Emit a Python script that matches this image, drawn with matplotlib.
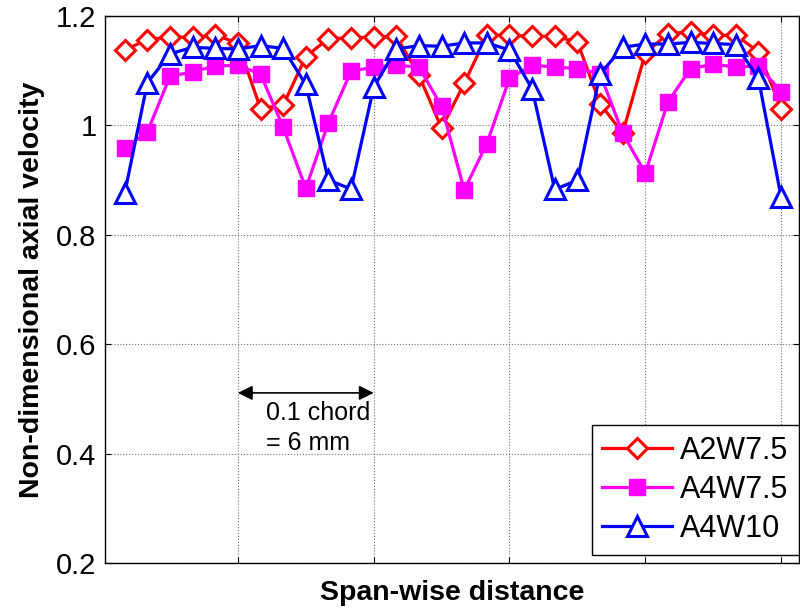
import numpy as np
import matplotlib.pyplot as plt

plt.rcParams["font.family"] = ["Liberation Sans", "DejaVu Sans"]

# span-wise position, 1 mm per probe point
span = np.arange(30)
labels = ["A2W7.5", "A4W7.5", "A4W10"]

a2w75 = [1.138, 1.157, 1.162, 1.161, 1.165, 1.151, 1.031, 1.037, 1.126, 1.159,
         1.160, 1.162, 1.163, 1.092, 0.995, 1.077, 1.165, 1.165, 1.163, 1.163,
         1.153, 1.040, 0.986, 1.132, 1.168, 1.171, 1.165, 1.165, 1.135, 1.031]
a4w75 = [0.958, 0.988, 1.090, 1.098, 1.109, 1.110, 1.094, 0.997, 0.885, 1.005,
         1.099, 1.107, 1.110, 1.107, 1.035, 0.882, 0.967, 1.086, 1.110, 1.107,
         1.104, 1.095, 0.986, 0.913, 1.043, 1.104, 1.112, 1.107, 1.109, 1.062]
a4w10 = [0.876, 1.078, 1.131, 1.143, 1.141, 1.140, 1.146, 1.141, 1.075, 0.900,
         0.884, 1.070, 1.140, 1.146, 1.145, 1.151, 1.151, 1.138, 1.067, 0.883,
         0.900, 1.094, 1.143, 1.149, 1.149, 1.152, 1.150, 1.148, 1.086, 0.869]

grid_x = [5, 11, 17, 23, 29]
yticks = [0.2, 0.4, 0.6, 0.8, 1.0, 1.2]
ytick_labels = ["0.2", "0.4", "0.6", "0.8", "1", "1.2"]

fig = plt.figure(figsize=(8.0, 6.11), dpi=100)
ax = fig.add_axes([0.131, 0.0786, 0.868, 0.895])

ax.plot(span, a2w75, color="red", lw=2.3, marker="D", ms=10, mfc="white",
        mec="red", mew=2.2, label=labels[0])
ax.plot(span, a4w75, color="magenta", lw=2.3, marker="s", ms=12, mfc="magenta",
        mec="magenta", label=labels[1])
ax.plot(span, a4w10, color="blue", lw=2.3, marker="^", ms=14, mfc="white",
        mec="blue", mew=2.2, label=labels[2])

ax.set_xlim(-0.88, 29.8)
ax.set_ylim(0.2, 1.2)
ax.set_xticks(grid_x)
ax.set_xticklabels([])
ax.set_yticks(yticks)
ax.set_yticklabels(ytick_labels)
ax.tick_params(direction="in", length=4, width=0.8, labelsize=21,
               top=True, right=True, pad=6)
ax.grid(True, color="0.45", linestyle=":", linewidth=0.8)
for s in ax.spines.values():
    s.set_linewidth(1.0)

ax.set_xlabel("Span-wise distance", fontsize=20.5, fontweight="bold", labelpad=6)
ax.set_ylabel("Non-dimensional axial velocity", fontsize=20.5, fontweight="bold",
              labelpad=8)

# 0.1 chord marker between two grid lines
ax.annotate("", xy=(grid_x[0], 0.511), xytext=(grid_x[1], 0.511),
            arrowprops=dict(arrowstyle="<|-|>", color="black", lw=1.2,
                            mutation_scale=22, shrinkA=0, shrinkB=0))
ax.text(6.25, 0.474, "0.1 chord", fontsize=18, va="center", ha="left")
ax.text(6.25, 0.419, "= 6 mm", fontsize=18, va="center", ha="left")

leg = ax.legend(loc="lower right", bbox_to_anchor=(1.0, 0.015), borderaxespad=0,
                fontsize=22, handlelength=2.3, handletextpad=0.25,
                labelspacing=0.3, fancybox=False, framealpha=1,
                edgecolor="black", borderpad=0.35)
leg.get_frame().set_linewidth(1.0)

fig.savefig("out.png", dpi=100)
